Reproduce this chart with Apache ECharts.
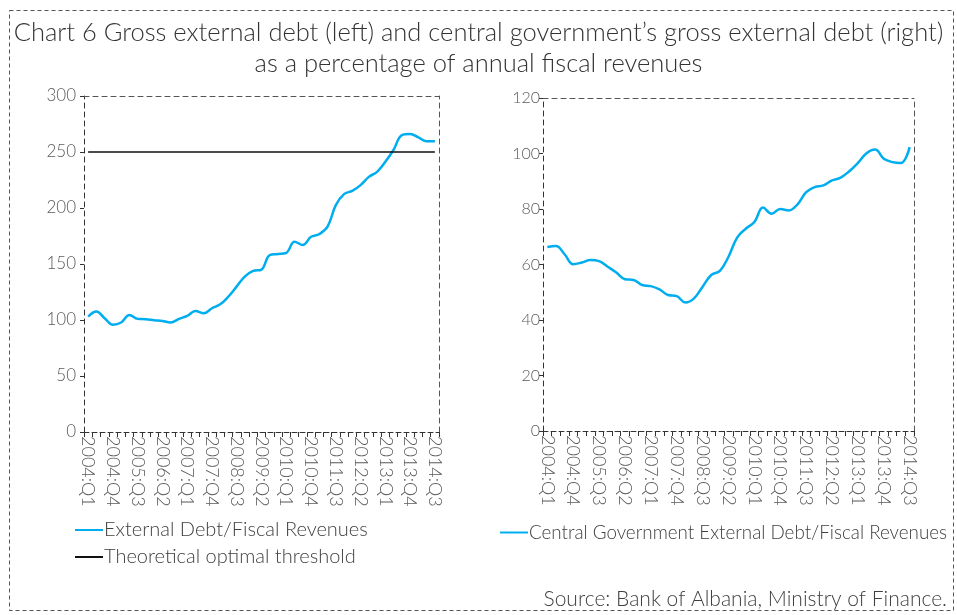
<!DOCTYPE html>
<html>
<head>
<meta charset="utf-8">
<script src="https://cdn.jsdelivr.net/npm/echarts@6/dist/echarts.min.js"></script>
<style>
  html, body { margin: 0; padding: 0; background: #fff; }
  #chart { width: 957px; height: 615px; }
</style>
</head>
<body>
<div id="chart"></div>
<script>
// Quarterly categories, 2004:Q1 – 2014:Q3
const quarters = [
  '2004:Q1','2004:Q2','2004:Q3','2004:Q4',
  '2005:Q1','2005:Q2','2005:Q3','2005:Q4',
  '2006:Q1','2006:Q2','2006:Q3','2006:Q4',
  '2007:Q1','2007:Q2','2007:Q3','2007:Q4',
  '2008:Q1','2008:Q2','2008:Q3','2008:Q4',
  '2009:Q1','2009:Q2','2009:Q3','2009:Q4',
  '2010:Q1','2010:Q2','2010:Q3','2010:Q4',
  '2011:Q1','2011:Q2','2011:Q3','2011:Q4',
  '2012:Q1','2012:Q2','2012:Q3','2012:Q4',
  '2013:Q1','2013:Q2','2013:Q3','2013:Q4',
  '2014:Q1','2014:Q2','2014:Q3'
];

// Gross external debt as % of annual fiscal revenues
const externalDebt = [
  103, 107.5, 101.6, 95.8, 97.8, 104.5, 101, 100.7, 99.8, 99.2,
  97.8, 101, 103.7, 108, 106, 110.5, 114, 121, 130, 139,
  143.8, 145, 158, 158.9, 160, 169.9, 167, 174.3, 176.7, 183.3,
  202.6, 212.4, 215.3, 220.4, 227.8, 232.3, 241.2, 252, 265, 266,
  263, 259.5, 259.5
];

// Theoretical optimal threshold (%)
const threshold = [
  250, 250, 250, 250, 250, 250, 250, 250, 250, 250,
  250, 250, 250, 250, 250, 250, 250, 250, 250, 250,
  250, 250, 250, 250, 250, 250, 250, 250, 250, 250,
  250, 250, 250, 250, 250, 250, 250, 250, 250, 250,
  250, 250, 250
];

// Central government gross external debt as % of annual fiscal revenues
const centralGovDebt = [
  66.3, 66.7, 63.7, 60.1, 60.7, 61.6, 61.2, 59.2, 57.1, 54.7,
  54.4, 52.6, 52.2, 51, 49, 48.6, 46.3, 47.8, 52, 56.2,
  57.7, 62.8, 69.7, 72.9, 75.3, 80.5, 78.3, 80, 79.5, 81.7,
  86.1, 87.9, 88.5, 90.3, 91.3, 93.6, 96.6, 100.1, 101.4, 98.1,
  96.9, 96.6, 102.3
];

const titleLines = [
  'Chart 6 Gross external debt (left) and central government\u2019s gross external debt (right)',
  'as a percentage of annual fiscal revenues'
];

const FONT = 'Lato';
const TEXT = '#404040';
const AXIS_TEXT = '#5a5a5a';
const BLUE = '#00aeef';

function categoryAxis(gridIndex) {
  return {
    type: 'category', gridIndex, data: quarters, boundaryGap: true,
    axisLine: { show: true, onZero: false, lineStyle: { color: '#333', type: [5, 3], width: 1 } },
    axisTick: { show: true, interval: 0, length: 5, lineStyle: { color: '#333' } },
    axisLabel: {
      interval: 2, rotate: -90, margin: 4,
      fontFamily: FONT, fontWeight: 300, fontSize: 18, color: AXIS_TEXT
    }
  };
}
// dashed top edge of a plot frame
function frameX(gridIndex) {
  return {
    type: 'category', gridIndex, data: quarters, position: 'top', boundaryGap: true,
    axisLine: { show: true, onZero: false, lineStyle: { color: '#555', type: [5, 4], width: 1 } },
    axisTick: { show: false }, axisLabel: { show: false }
  };
}
function valueAxis(gridIndex, max, interval, margin, size) {
  return {
    type: 'value', gridIndex, min: 0, max, interval,
    axisLine: { show: true, onZero: false, lineStyle: { color: '#333', type: [5, 4], width: 1 } },
    axisTick: { show: true, length: 4, lineStyle: { color: '#333' } },
    splitLine: { show: false },
    axisLabel: { margin, fontFamily: FONT, fontWeight: 300, fontSize: size, color: AXIS_TEXT }
  };
}
// dashed right edge of a plot frame
function frameY(gridIndex, max, interval) {
  return {
    type: 'value', gridIndex, min: 0, max, interval, position: 'right',
    axisLine: { show: true, onZero: false, lineStyle: { color: '#555', type: [5, 4], width: 1 } },
    axisTick: { show: false }, axisLabel: { show: false }, splitLine: { show: false }
  };
}

const chart = echarts.init(document.getElementById('chart'), null, { renderer: 'canvas' });

const titleStyle = { fontFamily: FONT, fontWeight: 300, fontSize: 25.5, color: '#333' };

chart.setOption({
  animation: false,
  backgroundColor: '#fff',
  title: [
    { text: titleLines[0], left: 'center', top: 20, padding: 0, textStyle: titleStyle },
    { text: titleLines[1], left: 'center', top: 51, padding: 0, textStyle: titleStyle }
  ],
  grid: [
    { left: 84, right: 518, top: 96, bottom: 183 },
    { left: 543, right: 43, top: 98, bottom: 184 }
  ],
  xAxis: [categoryAxis(0), categoryAxis(1), frameX(0), frameX(1)],
  yAxis: [
    valueAxis(0, 300, 50, 8, 17),
    valueAxis(1, 120, 20, 3, 16),
    frameY(0, 300, 50),
    frameY(1, 120, 20)
  ],
  legend: [
    {
      orient: 'vertical', left: 70, top: 515, itemGap: 7,
      itemWidth: 28, itemHeight: 2, icon: 'rect',
      textStyle: { fontFamily: FONT, fontWeight: 300, fontSize: 20, color: TEXT, padding: [0, 0, 0, -4] },
      data: ['External Debt/Fiscal Revenues', 'Theoretical optimal threshold']
    },
    {
      orient: 'vertical', left: 495, top: 518,
      itemWidth: 28, itemHeight: 2, icon: 'rect',
      textStyle: { fontFamily: FONT, fontWeight: 300, fontSize: 18.8, color: TEXT, padding: [0, 0, 0, -4] },
      data: ['Central Government External Debt/Fiscal Revenues']
    }
  ],
  series: [
    {
      name: 'External Debt/Fiscal Revenues', type: 'line',
      xAxisIndex: 0, yAxisIndex: 0, data: externalDebt,
      smooth: 0.4, showSymbol: false, symbol: 'none',
      lineStyle: { color: BLUE, width: 2.5 }, itemStyle: { color: BLUE }
    },
    {
      name: 'Theoretical optimal threshold', type: 'line',
      xAxisIndex: 0, yAxisIndex: 0, data: threshold,
      showSymbol: false, symbol: 'none',
      lineStyle: { color: '#111', width: 1.5 }, itemStyle: { color: '#111' }
    },
    {
      name: 'Central Government External Debt/Fiscal Revenues', type: 'line',
      xAxisIndex: 1, yAxisIndex: 1, data: centralGovDebt,
      smooth: 0.4, showSymbol: false, symbol: 'none',
      lineStyle: { color: BLUE, width: 2.5 }, itemStyle: { color: BLUE }
    }
  ],
  graphic: [
    {
      type: 'rect', silent: true, z: -1,
      shape: { x: 9.5, y: 10.5, width: 944, height: 600 },
      style: { fill: 'none', stroke: '#555', lineWidth: 1, lineDash: [4, 3] }
    },
    {
      type: 'text', right: 10, bottom: 5,
      style: {
        text: 'Source: Bank of Albania, Ministry of Finance.',
        fontFamily: FONT, fontWeight: 300, fontSize: 21, fill: TEXT
      }
    }
  ]
});
</script>
</body>
</html>
